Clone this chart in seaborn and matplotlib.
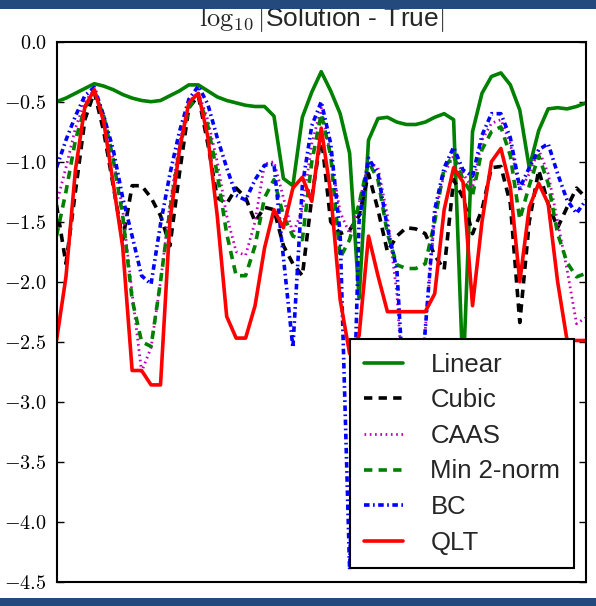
import numpy as np
import pandas as pd
import matplotlib
matplotlib.use("Agg")
import matplotlib.pyplot as plt
from matplotlib.patches import Rectangle
from matplotlib.ticker import FuncFormatter
import seaborn as sns

# sample index along the transect
x = np.arange(57)

linear = [-0.50, -0.47, -0.43, -0.39, -0.35, -0.37, -0.40, -0.44, -0.47, -0.49,
          -0.50, -0.49, -0.45, -0.41, -0.36, -0.36, -0.41, -0.46, -0.49, -0.51,
          -0.53, -0.54, -0.54, -0.62, -1.14, -1.20, -0.63, -0.42, -0.25, -0.41,
          -0.60, -0.93, -2.14, -0.82, -0.64, -0.63, -0.67, -0.69, -0.69, -0.67,
          -0.63, -0.60, -0.65, -2.80, -0.75, -0.43, -0.29, -0.26, -0.36, -0.57,
          -1.05, -0.74, -0.56, -0.55, -0.56, -0.54, -0.51]
cubic = [-1.36, -1.85, -1.25, -0.65, -0.42, -0.75, -1.20, -1.65, -1.20, -1.20,
         -1.30, -1.45, -1.70, -1.10, -0.55, -0.45, -0.85, -1.30, -1.35, -1.22,
         -1.30, -1.50, -1.38, -1.40, -1.70, -1.85, -1.95, -1.30, -0.78, -1.50,
         -1.60, -1.57, -1.45, -1.10, -1.40, -1.75, -1.62, -1.55, -1.56, -1.60,
         -1.78, -1.90, -1.15, -1.30, -1.60, -1.40, -1.05, -1.04, -1.35, -2.34,
         -1.50, -1.07, -1.35, -1.55, -1.38, -1.22, -1.30]
caas = [-1.35, -1.05, -0.72, -0.50, -0.40, -0.62, -0.98, -1.40, -2.10, -2.75,
        -2.55, -2.00, -1.35, -0.85, -0.50, -0.42, -0.65, -1.00, -1.45, -1.75,
        -1.78, -1.50, -1.02, -1.00, -1.30, -1.60, -1.40, -0.85, -0.55, -0.95,
        -1.42, -1.60, -1.35, -1.00, -1.05, -1.45, -2.10, -3.30, -3.30, -2.40,
        -1.45, -1.10, -0.95, -1.10, -1.22, -0.82, -0.68, -0.65, -0.85, -1.25,
        -1.10, -0.90, -1.10, -1.50, -1.90, -2.35, -2.30]
min2norm = [-1.62, -1.25, -0.82, -0.55, -0.42, -0.62, -0.98, -1.45, -2.15, -2.50,
            -2.54, -2.00, -1.40, -0.90, -0.55, -0.45, -0.70, -1.10, -1.60, -1.95,
            -1.95, -1.70, -1.30, -1.15, -1.45, -1.62, -1.65, -1.00, -0.60, -0.95,
            -1.80, -1.65, -1.35, -1.00, -1.15, -1.60, -1.86, -1.89, -1.89, -1.85,
            -1.50, -1.05, -0.95, -1.15, -1.28, -0.90, -0.75, -0.71, -0.95, -1.48,
            -1.20, -0.95, -1.18, -1.60, -1.84, -1.96, -1.93]
bc = [-1.05, -0.82, -0.62, -0.45, -0.38, -0.62, -0.90, -1.30, -1.62, -1.95,
      -2.02, -1.52, -1.10, -0.75, -0.48, -0.37, -0.52, -0.80, -1.05, -1.28,
      -1.32, -1.15, -1.03, -1.02, -1.80, -2.55, -1.20, -0.70, -0.50, -0.85,
      -1.60, -4.40, -1.50, -0.97, -1.10, -1.55, -1.90, -3.30, -3.40, -2.40,
      -1.40, -1.05, -0.88, -1.07, -1.12, -0.78, -0.60, -0.60, -0.80, -1.22,
      -1.05, -0.90, -0.85, -1.10, -1.32, -1.43, -1.32]
qlt = [-2.49, -1.96, -1.07, -0.54, -0.40, -0.67, -1.18, -1.71, -2.74, -2.74,
       -2.86, -2.86, -1.49, -0.90, -0.51, -0.43, -0.79, -1.45, -2.29, -2.47,
       -2.47, -2.20, -1.72, -1.40, -1.55, -1.22, -1.13, -1.33, -0.72, -1.26,
       -2.15, -2.60, -2.45, -1.62, -1.95, -2.25, -2.25, -2.25, -2.25, -2.25,
       -2.10, -1.40, -1.05, -1.17, -2.20, -1.50, -1.00, -0.89, -1.21, -2.00,
       -1.38, -1.18, -1.35, -2.00, -2.49, -2.49, -2.49]

labels = ["Linear", "Cubic", "CAAS", "Min 2-norm", "BC", "QLT"]
series = [linear, cubic, caas, min2norm, bc, qlt]

styles = {
    "Linear":     dict(color="#008000", linewidth=2.6, linestyle="-"),
    "Cubic":      dict(color="#000000", linewidth=2.6, linestyle=(0, (6, 4.5))),
    "CAAS":       dict(color="#bf00bf", linewidth=2.0, linestyle=(0, (1.2, 2.6))),
    "Min 2-norm": dict(color="#008000", linewidth=2.6, linestyle=(0, (6, 4.5))),
    "BC":         dict(color="#0000ff", linewidth=2.6, linestyle=(0, (4, 2.5, 1.2, 2.5))),
    "QLT":        dict(color="#ff0000", linewidth=2.6, linestyle="-"),
}

sns.set_style("white")
plt.rcParams["font.family"] = ["Liberation Sans", "DejaVu Sans"]
plt.rcParams["mathtext.fontset"] = "cm"
plt.rcParams["lines.scale_dashes"] = False

fig = plt.figure(figsize=(5.96, 6.06), dpi=100)
ax = fig.add_axes([0.0948, 0.0401, 0.8884, 0.8911])

for name, vals in zip(labels, series):
    df = pd.DataFrame({"x": x, "y": vals})
    sns.lineplot(data=df, x="x", y="y", ax=ax, label=name, **styles[name])

ax.set_xlim(0, 56)
ax.set_ylim(-4.5, 0.0)
ax.set_xticks([])
ax.set_yticks(np.arange(-4.5, 0.01, 0.5))
ax.yaxis.set_major_formatter(FuncFormatter(lambda v, p: r"$%.1f$" % v if abs(v) > 1e-9 else r"$0.0$"))
ax.tick_params(axis="y", direction="in", length=5, width=1, left=True, right=True,
               labelsize=14.5, pad=7, colors="black")
ax.set_xlabel("")
ax.set_ylabel("")
for s in ax.spines.values():
    s.set_color("black")
    s.set_linewidth(1.5)

ax.set_title(r"$\log_{10}|$Solution - True$|$", fontsize=19, pad=11)

leg = ax.legend(loc="lower right", bbox_to_anchor=(0.977, 0.0254), borderaxespad=0,
                fontsize=18.5, frameon=True, fancybox=False, framealpha=1,
                edgecolor="black", handlelength=1.55, handletextpad=1.05,
                labelspacing=0.45, borderpad=0.52)
leg.get_frame().set_linewidth(1.5)

# slide frame bars
fig.add_artist(Rectangle((0, 1 - 9 / 606), 1, 9 / 606, transform=fig.transFigure,
                         facecolor="#24497d", edgecolor="none", zorder=10))
fig.add_artist(Rectangle((0, 0), 1, 8 / 606, transform=fig.transFigure,
                         facecolor="#24497d", edgecolor="none", zorder=10))

fig.savefig("out.png", dpi=100)
